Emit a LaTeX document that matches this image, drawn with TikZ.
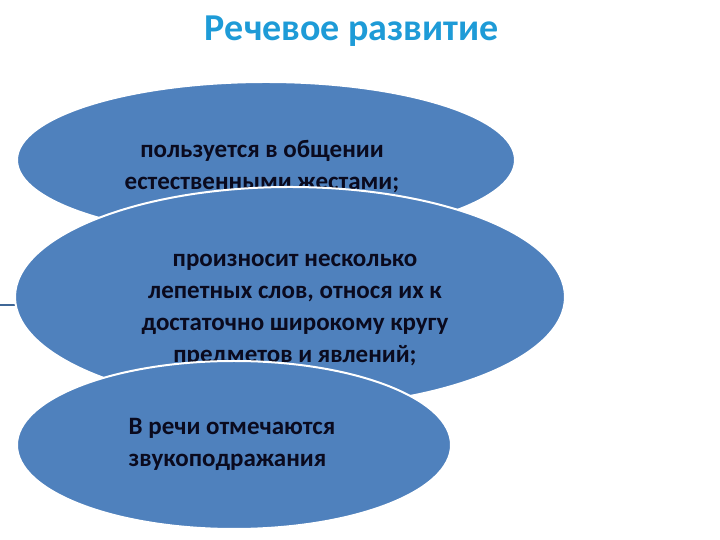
\documentclass[tikz,border=0pt]{standalone}
\usepackage{fontspec}
\setmainfont{Carlito}
\begin{document}
\begin{tikzpicture}[x=1pt,y=1pt,
  blob/.style={draw=white,line width=2pt,fill=ellblue},
  txt/.style={text=textdark,font=\bfseries\fontsize{25}{32}\selectfont,align=center,inner sep=0pt}]
\definecolor{ellblue}{HTML}{4F81BD}
\definecolor{textdark}{HTML}{0A0A1E}
\definecolor{titleblue}{HTML}{1E9BD7}
\useasboundingbox (0,0) rectangle (720,540);
\node[font=\bfseries\fontsize{38}{42}\selectfont,text=titleblue] (title) at (352,509) {Речевое развитие};
\draw[ellblue!80!black,line width=1.5pt] (0,235) -- (17,235);
\draw[blob] (266,380) ellipse [x radius=249,y radius=78];
\node[txt] (t1) at (262,373) {пользуется в общении\\естественными жестами;};
\draw[blob] (290,243) ellipse [x radius=275,y radius=110];
\node[txt] (t2) at (295,230) {произносит несколько\\лепетных слов, относя их к\\достаточно широкому кругу\\предметов и явлений;};
\draw[blob] (234,95) ellipse [x radius=217,y radius=84];
\node[txt,align=left] (t3) at (232,96) {В речи отмечаются\\звукоподражания};
\end{tikzpicture}
\end{document}
